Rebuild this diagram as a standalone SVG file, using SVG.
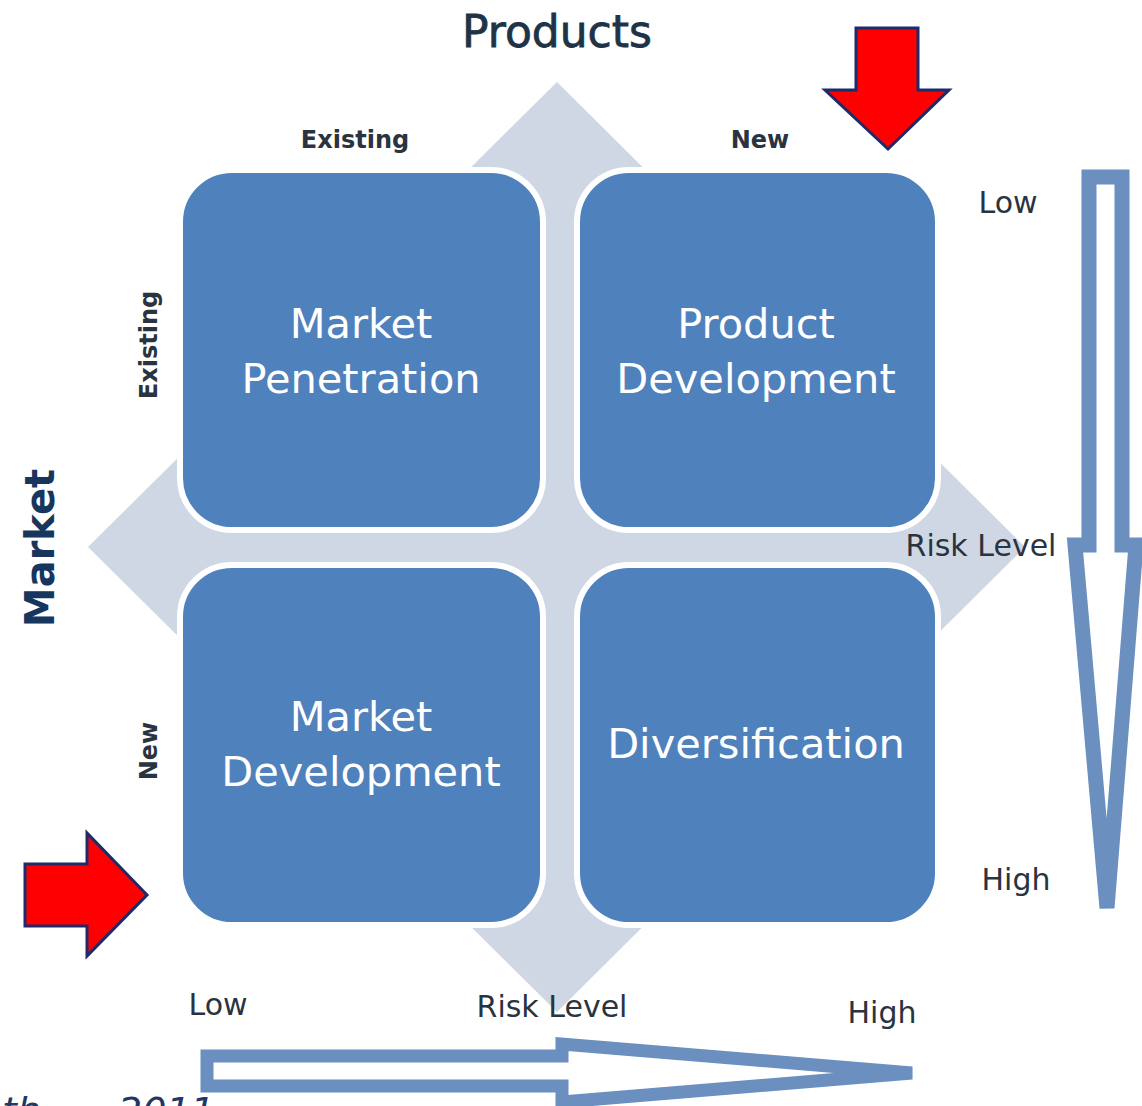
<svg xmlns="http://www.w3.org/2000/svg" width="1142" height="1106" viewBox="0 0 1142 1106">
<style>
.box{fill:#4f81bd;stroke:#ffffff;stroke-width:6}
.bt{font-family:"DejaVu Sans",sans-serif;font-size:41.5px;fill:#ffffff;text-anchor:middle}
.lbl{font-family:"DejaVu Sans",sans-serif;font-weight:bold;font-size:24px;fill:#2a3340;text-anchor:middle}
.risk{font-family:"DejaVu Sans",sans-serif;font-size:30px;fill:#2a3340;text-anchor:middle}
.red{fill:#ff0000;stroke:#1f2a6b;stroke-width:3;stroke-linejoin:miter}
.bar{fill:#ffffff;stroke:#6b8fbf;stroke-width:15;stroke-linejoin:miter}
</style>
<rect width="1142" height="1106" fill="#ffffff"/>
<g id="background-diamond">
<polygon points="557,82 1025,547 557,1012 88,547" fill="#cfd7e4"/>
</g>
<g id="title-products">
<text x="557" y="47" font-family="DejaVu Sans, sans-serif" font-size="44" fill="#1f3347" stroke="#1f3347" stroke-width="0.8" text-anchor="middle">Products</text>
</g>
<g id="title-market">
<text transform="translate(54,548) rotate(-90)" font-family="DejaVu Sans, sans-serif" font-weight="bold" font-size="40" fill="#17365d" text-anchor="middle">Market</text>
</g>
<g id="box-market-penetration">
<rect class="box" x="180" y="170" width="363" height="360" rx="52"/>
<text class="bt" x="361" y="338">Market</text>
<text class="bt" x="361" y="393">Penetration</text>
</g>
<g id="box-product-development">
<rect class="box" x="577" y="170" width="361" height="360" rx="52"/>
<text class="bt" x="756" y="338">Product</text>
<text class="bt" x="756" y="393">Development</text>
</g>
<g id="box-market-development">
<rect class="box" x="180" y="565" width="363" height="360" rx="52"/>
<text class="bt" x="361" y="731">Market</text>
<text class="bt" x="361" y="786">Development</text>
</g>
<g id="box-diversification">
<rect class="box" x="577" y="565" width="361" height="360" rx="52"/>
<text class="bt" x="756" y="758">Diversification</text>
</g>
<g id="axis-labels">
<text class="lbl" x="355" y="148">Existing</text>
<text class="lbl" x="760" y="148">New</text>
<text class="lbl" transform="translate(157,345) rotate(-90)">Existing</text>
<text class="lbl" transform="translate(157,751) rotate(-90)">New</text>
</g>
<g id="connectors">
<polygon class="bar" points="1089,177 1122,177 1122,545 1136,545 1107,908 1075,545 1089,545"/>
<polygon class="bar" points="207,1056 562,1056 562,1044 912,1073 562,1102 562,1086 207,1086" style="stroke-width:13"/>
<polygon class="red" points="856,28 918,28 918,90 949,90 888,149 825,90 856,90"/>
<polygon class="red" points="25,864 87,864 87,833 147,895 87,956 87,926 25,926"/>
</g>
<g id="risk-labels">
<text class="risk" x="1008" y="213">Low</text>
<text class="risk" x="981" y="556">Risk Level</text>
<text class="risk" x="1016" y="890">High</text>
<text class="risk" x="218" y="1015">Low</text>
<text class="risk" x="552" y="1017">Risk Level</text>
<text class="risk" x="882" y="1023">High</text>
</g>
<g id="source">
<text x="2" y="1124" font-family="DejaVu Sans, sans-serif" font-style="italic" font-size="38" fill="#1f3864">th<tspan x="118">2011</tspan></text>
</g>
</svg>
